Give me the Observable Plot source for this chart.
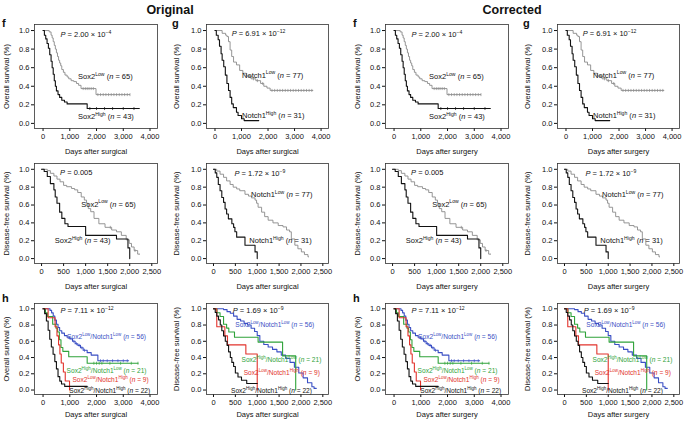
<!DOCTYPE html>
<html><head><meta charset="utf-8">
<script src="https://cdn.jsdelivr.net/npm/d3@7"></script>
<script src="https://cdn.jsdelivr.net/npm/@observablehq/plot@0.6"></script>
<style>
body{margin:0;background:#fff;font-family:"Liberation Sans",Arial,Helvetica,sans-serif}
#root{position:relative;width:685px;height:431px;overflow:hidden;background:#fff}
.pan{position:absolute}
.ttl{position:absolute;font-weight:bold;font-size:12.5px;color:#111;transform:translateX(-50%)}
.let{position:absolute;font-weight:bold;font-size:11px;color:#111;z-index:2}
</style></head><body><div id="root"></div>
<script>
// ---------- data ----------
const halves = ["Original", "Corrected"];
const xTitles = ["Days after surgical", "Days after surgery"];
const yTitles = ["Overall survival (%)", "Disease-free survival (%)"];
const panelLetters = ["f", "g", "h"];
const yTicks = [0, 0.2, 0.4, 0.6, 0.8, 1.0];
const osTicks = [0, 1000, 2000, 3000, 4000];
const dfsTicks = [0, 500, 1000, 1500, 2000, 2500];

// Panel f, overall survival (Sox2)
const osSox2LowT = [0, 230, 300, 340, 380, 420, 460, 500, 540, 580, 620, 660, 700, 760, 820, 900, 960, 1050, 1150, 1250, 1330, 1420, 1980, 3250];
const osSox2LowS = [1.0, 0.985, 0.95, 0.92, 0.88, 0.84, 0.80, 0.76, 0.72, 0.68, 0.65, 0.62, 0.58, 0.55, 0.52, 0.50, 0.48, 0.46, 0.45, 0.43, 0.41, 0.375, 0.31, 0.31];
const osSox2LowCens = [1500, 1580, 1650, 1720, 1800, 1880, 2050, 2150, 2250, 2350, 2450, 2550, 2650, 2750, 2850, 2950, 3050, 3150, 3250];
const osSox2HighT = [0, 50, 100, 150, 200, 250, 300, 340, 380, 420, 460, 500, 560, 620, 700, 800, 900, 1650, 3600];
const osSox2HighS = [1.0, 0.95, 0.91, 0.86, 0.81, 0.74, 0.67, 0.60, 0.53, 0.46, 0.40, 0.35, 0.31, 0.28, 0.25, 0.23, 0.21, 0.16, 0.16];
const osSox2HighCens = [1750, 2000, 2300, 2600, 3000, 3400];
const fOsTexts = ["*P* = 2.00 × 10^{−4}", "Sox2^{Low} (*n* = 65)", "Sox2^{High} (*n* = 43)"];

// Panel g, overall survival (Notch1)
const osNotchLowT = [0, 270, 400, 450, 510, 570, 630, 700, 810, 930, 1050, 1180, 1360, 1540, 1720, 1840, 1960, 2080, 3700];
const osNotchLowS = [1, 0.97, 0.95, 0.935, 0.88, 0.79, 0.72, 0.66, 0.63, 0.57, 0.54, 0.51, 0.48, 0.46, 0.43, 0.40, 0.38, 0.355, 0.355];
const osNotchLowCens = [1300, 1450, 1600, 1800, 2150, 2250, 2350, 2450, 2550, 2650, 2750, 2850, 2950, 3050, 3150, 3250, 3350, 3450, 3550, 3650];
const osNotchHighT = [0, 50, 120, 170, 230, 270, 330, 390, 450, 510, 570, 630, 690, 810, 870, 1000, 1100, 1650];
const osNotchHighS = [1, 0.95, 0.90, 0.83, 0.75, 0.68, 0.61, 0.52, 0.43, 0.355, 0.28, 0.21, 0.17, 0.12, 0.085, 0.05, 0.03, 0.03];
const gOsTexts = ["*P* = 6.91 × 10^{−12}", "Notch1^{Low} (*n* = 77)", "Notch1^{High} (*n* = 31)"];

// Panel f, disease-free survival (Sox2)
const dfsSox2LowT = [0, 130, 200, 280, 350, 420, 500, 570, 680, 750, 820, 900, 970, 1020, 1060, 1115, 1190, 1300, 1440, 1590, 1700, 1810, 1920, 1990, 2040, 2100, 2180, 2230];
const dfsSox2LowS = [1, 0.985, 0.955, 0.925, 0.89, 0.86, 0.82, 0.805, 0.785, 0.77, 0.74, 0.69, 0.655, 0.62, 0.56, 0.525, 0.45, 0.39, 0.35, 0.32, 0.30, 0.26, 0.21, 0.17, 0.13, 0.09, 0.05, 0.05];
const dfsSox2HighT = [0, 60, 130, 200, 280, 310, 350, 410, 460, 530, 600, 1000, 1700, 1960, 2000];
const dfsSox2HighS = [1, 0.975, 0.92, 0.84, 0.77, 0.69, 0.62, 0.52, 0.45, 0.39, 0.36, 0.26, 0.22, 0.12, 0];
const dfsSox2LowCens = [1560, 2120];
const fDfsTexts = ["*P* = 0.005", "Sox2^{Low} (*n* = 65)", "Sox2^{High} (*n* = 43)"];

// Panel g, disease-free survival (Notch1)
const dfsNotchLowT = [0, 75, 150, 230, 300, 380, 450, 530, 600, 720, 800, 870, 950, 985, 1020, 1100, 1170, 1250, 1360, 1480, 1590, 1670, 1740, 1780, 1860, 1930, 2010, 2080, 2160, 2180];
const dfsNotchLowS = [1, 0.98, 0.945, 0.91, 0.87, 0.83, 0.80, 0.78, 0.76, 0.72, 0.70, 0.68, 0.655, 0.62, 0.575, 0.52, 0.47, 0.43, 0.40, 0.37, 0.355, 0.32, 0.30, 0.22, 0.15, 0.11, 0.075, 0.045, 0.02, 0.02];
const dfsNotchHighT = [0, 40, 75, 110, 150, 190, 230, 265, 300, 340, 420, 460, 490, 530, 720, 950, 1000];
const dfsNotchHighS = [1, 0.96, 0.91, 0.83, 0.76, 0.685, 0.63, 0.555, 0.50, 0.445, 0.39, 0.35, 0.30, 0.24, 0.15, 0.075, 0];
const gDfsTexts = ["*P* = 1.72 × 10^{−9}", "Notch1^{Low} (*n* = 77)", "Notch1^{High} (*n* = 31)"];

// Panel h, overall survival (combined groups)
const osBlueT = [0, 260, 320, 380, 440, 500, 560, 620, 700, 800, 900, 1000, 1100, 1200, 1300, 1400, 1500, 1650, 1800, 2050, 3200];
const osBlueS = [1, 0.98, 0.95, 0.91, 0.86, 0.81, 0.77, 0.73, 0.70, 0.67, 0.65, 0.63, 0.60, 0.57, 0.55, 0.52, 0.49, 0.46, 0.43, 0.36, 0.36];
const osBlueCens = [1150, 1250, 1350, 1450, 1550, 2150, 2250, 2400, 2600, 2800, 3000, 3150];
const osGreenT = [0, 90, 165, 360, 480, 545, 610, 670, 740, 960, 1650, 3550];
const osGreenS = [1, 0.952, 0.905, 0.81, 0.762, 0.714, 0.619, 0.524, 0.476, 0.41, 0.33, 0.33];
const osGreenCens = [1900, 2000, 2100, 2200, 2500, 2900, 3300, 3550];
const osRedT = [0, 190, 450, 520, 580, 630, 680, 760, 830, 990];
const osRedS = [1, 0.889, 0.778, 0.667, 0.556, 0.444, 0.333, 0.222, 0.111, 0];
const osBlackT = [0, 60, 125, 190, 250, 310, 375, 440, 500, 560, 625, 690, 810, 1650];
const osBlackS = [1, 0.94, 0.85, 0.735, 0.625, 0.53, 0.44, 0.35, 0.26, 0.165, 0.11, 0.075, 0.045, 0.045];
const hOsTexts = ["*P* = 7.11 × 10^{−12}", "Sox2^{Low}/Notch1^{Low} (*n* = 56)", "Sox2^{High}/Notch1^{Low} (*n* = 21)", "Sox2^{Low}/Notch1^{High} (*n* = 9)", "Sox2^{High}/Notch1^{High} (*n* = 22)"];

// Panel h, disease-free survival (combined groups)
const dfsBlueT = [0, 230, 310, 385, 460, 540, 620, 700, 780, 860, 940, 1000, 1060, 1150, 1250, 1350, 1450, 1550, 1650, 1750, 1850, 1950, 2050, 2150, 2250, 2300, 2350];
const dfsBlueS = [1, 0.99, 0.965, 0.945, 0.91, 0.87, 0.85, 0.82, 0.80, 0.76, 0.72, 0.67, 0.60, 0.56, 0.53, 0.50, 0.47, 0.43, 0.39, 0.34, 0.28, 0.21, 0.15, 0.09, 0.04, 0.02, 0.02];
const dfsGreenT = [0, 80, 150, 230, 300, 350, 480, 1020, 1580, 1880];
const dfsGreenS = [1, 0.952, 0.905, 0.81, 0.762, 0.714, 0.65, 0.59, 0.42, 0];
const dfsRedT = [0, 75, 260, 320, 740, 1000];
const dfsRedS = [1, 0.778, 0.667, 0.556, 0.444, 0];
const dfsBlackT = [0, 40, 75, 115, 155, 190, 230, 270, 310, 345, 385, 420, 460, 500, 560, 640, 760, 1000];
const dfsBlackS = [1, 0.955, 0.91, 0.864, 0.80, 0.73, 0.665, 0.60, 0.55, 0.47, 0.40, 0.34, 0.29, 0.21, 0.16, 0.12, 0.08, 0.08];
const hDfsTexts = ["*P* = 1.69 × 10^{−9}", "Sox2^{Low}/Notch1^{Low} (*n* = 56)", "Sox2^{High}/Notch1^{Low} (*n* = 21)", "Sox2^{Low}/Notch1^{High} (*n* = 9)", "Sox2^{High}/Notch1^{High} (*n* = 22)"];

// ---------- styling / layout ----------
const FONT = '"Liberation Sans", Arial, Helvetica, sans-serif';
const FS = 7.5, FS_H = 6.6;
const GRAY = "#8a8a8a", BLACK = "#111", BLUE = "#3a4fc4", GREEN = "#2fa33a", RED = "#e2332c";
const OS_DOM = [-320, 4280], DFS_DOM = [-160, 2630], Y_DOM = [-0.055, 1.065];

const cols = [  // [svg left, svg width, marginLeft, marginRight] for each half
  [[0, 170, 34, 13], [170, 170, 36, 12]],
  [[351, 170, 34, 13], [521, 164, 36, 6]]
];
const rows = [ // [svg top, svg height, marginTop, marginBottom, xLabelOffset]
  [0, 157, 24, 29, 25],
  [157, 141, 6, 35, 25],
  [298, 133, 5, 37, 22]
];

const panels = [
  {row: 0, col: 0, dom: OS_DOM, ticks: osTicks, yt: 0,
   series: [[osSox2LowT, osSox2LowS, osSox2LowCens, GRAY], [osSox2HighT, osSox2HighS, osSox2HighCens, BLACK]],
   texts: fOsTexts, tx: [650, 1310, 1310], ty: [0.96, 0.50, 0.07], tc: [BLACK, BLACK, BLACK]},
  {row: 0, col: 1, dom: OS_DOM, ticks: osTicks, yt: 0,
   series: [[osNotchLowT, osNotchLowS, osNotchLowCens, GRAY], [osNotchHighT, osNotchHighS, [], BLACK]],
   texts: gOsTexts, tx: [630, 1020, 1020], ty: [0.965, 0.52, 0.085], tc: [BLACK, BLACK, BLACK]},
  {row: 1, col: 0, dom: DFS_DOM, ticks: dfsTicks, yt: 1,
   series: [[dfsSox2LowT, dfsSox2LowS, dfsSox2LowCens, GRAY], [dfsSox2HighT, dfsSox2HighS, [], BLACK]],
   texts: fDfsTexts, tx: [420, 900, 300], ty: [0.965, 0.61, 0.2], tc: [BLACK, BLACK, BLACK]},
  {row: 1, col: 1, dom: DFS_DOM, ticks: dfsTicks, yt: 1,
   series: [[dfsNotchLowT, dfsNotchLowS, [], GRAY], [dfsNotchHighT, dfsNotchHighS, [], BLACK]],
   texts: gDfsTexts, tx: [480, 860, 820], ty: [0.95, 0.72, 0.2], tc: [BLACK, BLACK, BLACK]},
  {row: 2, col: 0, dom: OS_DOM, ticks: osTicks, yt: 0, small: true,
   series: [[osBlueT, osBlueS, osBlueCens, BLUE], [osGreenT, osGreenS, osGreenCens, GREEN], [osRedT, osRedS, [], RED], [osBlackT, osBlackS, [], BLACK]],
   texts: hOsTexts, tx: [650, 900, 880, 1100, 980], ty: [0.975, 0.66, 0.235, 0.125, -0.01], tc: [BLACK, BLUE, GREEN, RED, BLACK]},
  {row: 2, col: 1, dom: DFS_DOM, ticks: dfsTicks, yt: 1, small: true,
   series: [[dfsBlueT, dfsBlueS, [], BLUE], [dfsGreenT, dfsGreenS, [], GREEN], [dfsRedT, dfsRedS, [], RED], [dfsBlackT, dfsBlackS, [], BLACK]],
   texts: hDfsTexts, tx: [440, 500, 640, 690, 400], ty: [0.975, 0.80, 0.37, 0.21, -0.01], tc: [BLACK, BLUE, GREEN, RED, BLACK]}
];

// ---------- helpers ----------
const vtick = {draw(ctx, size) { const r = Math.sqrt(size) / 2; ctx.moveTo(0, -r); ctx.lineTo(0, r); }};
const survAt = (T, S, t) => { let s = S[0]; for (let i = 0; i < T.length; i++) if (T[i] <= t) s = S[i]; return s; };

function rich(svg) {
  const NS = "http://www.w3.org/2000/svg";
  svg.querySelectorAll("text").forEach(t => {
    const s = t.textContent;
    if (!/[\^*]/.test(s)) return;
    const fs = parseFloat(t.getAttribute("font-size") || (t.parentNode && t.parentNode.getAttribute && t.parentNode.getAttribute("font-size")) || FS) || FS;
    t.textContent = "";
    const re = /\^\{([^}]*)\}|\*([^*]*)\*|([^*^]+)/g;
    let m, shift = 0;
    while ((m = re.exec(s))) {
      const sp = document.createElementNS(NS, "tspan");
      if (m[1] !== undefined) {
        sp.textContent = m[1];
        sp.setAttribute("font-size", (fs * 0.68).toFixed(2));
        sp.setAttribute("dy", (-fs * 0.42).toFixed(2));
        shift = fs * 0.42;
      } else {
        sp.textContent = m[2] !== undefined ? m[2] : m[3];
        if (m[2] !== undefined) sp.setAttribute("font-style", "italic");
        if (shift) { sp.setAttribute("dy", shift.toFixed(2)); shift = 0; }
      }
      t.appendChild(sp);
    }
  });
}

const root = document.getElementById("root");
halves.forEach((name, hi) => {
  const tt = document.createElement("div");
  tt.className = "ttl"; tt.textContent = name;
  tt.style.left = (hi ? 512 : 170) + "px"; tt.style.top = "3px";
  root.appendChild(tt);
  panels.forEach(p => {
    const [left, width, ml, mr] = cols[hi][p.col];
    const [top, height, mt, mb, xlo] = rows[p.row];
    const marks = [];
    p.series.forEach(([T, S, C, color]) => {
      const pts = T.map((t, i) => ({t, s: S[i]}));
      marks.push(Plot.line(pts, {x: "t", y: "s", curve: "step-after", stroke: color,
        strokeWidth: color === GRAY ? 0.9 : 1.1}));
      if (C.length) marks.push(Plot.dot(C.map(c => ({t: c, s: survAt(T, S, c)})),
        {x: "t", y: "s", symbol: vtick, r: 1.7, stroke: color, strokeWidth: 0.7, fill: "none"}));
    });
    const data = p.texts.map((txt, i) => ({txt, x: p.tx[i], y: p.ty[i], c: p.tc[i]}));
    marks.push(Plot.text(data.slice(0, 1), {x: "x", y: "y", text: "txt", fill: "c", textAnchor: "start", fontSize: FS}));
    marks.push(Plot.text(data.slice(1), {x: "x", y: "y", text: "txt", fill: "c", textAnchor: "start", fontSize: p.small ? FS_H : FS}));
    marks.push(Plot.frame({stroke: "#333", strokeWidth: 0.8}));
    const svg = Plot.plot({
      width, height, marginLeft: ml, marginRight: mr, marginTop: mt, marginBottom: mb,
      style: {fontFamily: FONT, fontSize: FS + "px", background: "transparent", color: "#111", overflow: "visible"},
      x: {domain: p.dom, ticks: p.ticks, tickFormat: d3.format(","), tickSize: 3, tickPadding: 2,
          label: xTitles[hi], labelAnchor: "center", labelOffset: xlo, labelArrow: "none"},
      y: {domain: Y_DOM, ticks: yTicks, tickFormat: d3.format(".1f"), tickSize: 3, tickPadding: 2,
          label: yTitles[p.yt], labelAnchor: "center", labelOffset: ml - 3, labelArrow: "none"},
      color: {type: "identity"},
      marks
    });
    rich(svg);
    const div = document.createElement("div");
    div.className = "pan";
    div.style.left = left + "px"; div.style.top = top + "px";
    div.appendChild(svg);
    root.appendChild(div);
    if (p.row === 1) return;
    if (p.row === 2 && p.col === 1) return;
    const L = document.createElement("div");
    L.className = "let";
    L.textContent = p.row === 2 ? panelLetters[2] : panelLetters[p.col];
    L.style.left = (left + 2) + "px";
    L.style.top = (p.row === 2 ? 292 : 17) + "px";
    root.appendChild(L);
  });
});
</script></body></html>
